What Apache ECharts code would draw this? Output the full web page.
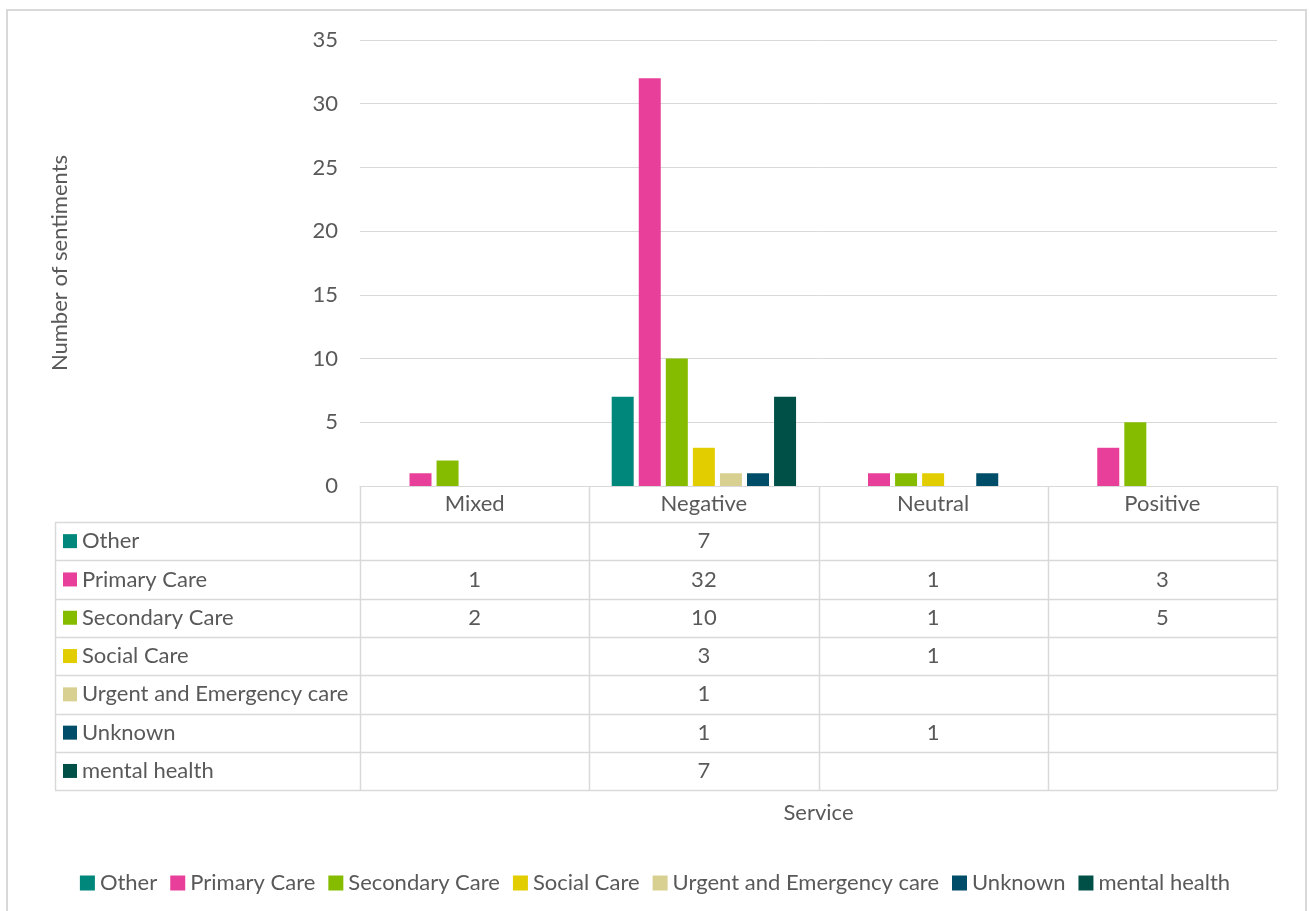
<!DOCTYPE html>
<html>
<head>
<meta charset="utf-8">
<style>
  html, body { margin: 0; padding: 0; background: #ffffff; }
  #chart { width: 1310px; height: 911px; }
</style>
<script src="https://cdn.jsdelivr.net/npm/echarts@6/dist/echarts.min.js"></script>
</head>
<body>
<div id="chart"></div>
<script>
// Sentiment counts per service, grouped by sentiment category
const categories = ['Mixed', 'Negative', 'Neutral', 'Positive'];
const seriesNames = ['Other', 'Primary Care', 'Secondary Care', 'Social Care',
                     'Urgent and Emergency care', 'Unknown', 'mental health'];
const otherValues     = [null, 7, null, null];
const primaryCare     = [1, 32, 1, 3];
const secondaryCare   = [2, 10, 1, 5];
const socialCare      = [null, 3, 1, null];
const urgentEmergency = [null, 1, null, null];
const unknownValues   = [null, 1, 1, null];
const mentalHealth    = [null, 7, null, null];
const seriesColors = ['#00877C', '#E8409A', '#86BC00', '#E2CD00', '#D8D090', '#004D6A', '#005048'];
const yMin = 0, yMax = 35, yStep = 5;

const seriesValues = [otherValues, primaryCare, secondaryCare, socialCare,
                      urgentEmergency, unknownValues, mentalHealth];

const FONT = 'Lato';
const FS = 22;
const TEXT = '#595959';
const LINE = '#D9D9D9';

const chart = echarts.init(document.getElementById('chart'), null, { renderer: 'canvas' });

chart.setOption({
  backgroundColor: '#ffffff',
  animation: false,
  textStyle: { fontFamily: FONT, color: TEXT },
  grid: { left: 360, right: 33, top: 40, bottom: 425, containLabel: false },
  legend: {
    bottom: 12,
    left: 'center',
    itemWidth: 15,
    itemHeight: 15,
    itemGap: 13,
    icon: 'rect',
    textStyle: { fontFamily: FONT, fontSize: FS, color: TEXT },
    data: seriesNames
  },
  xAxis: {
    type: 'category',
    data: categories,
    name: 'Service',
    nameLocation: 'middle',
    nameGap: 316,
    nameTextStyle: { fontFamily: FONT, fontSize: FS, color: TEXT },
    axisLine: { show: true, lineStyle: { color: LINE, width: 1 } },
    axisTick: { show: false },
    axisLabel: { margin: 7, fontFamily: FONT, fontSize: FS, color: TEXT },
    splitLine: { show: false }
  },
  yAxis: {
    type: 'value',
    min: yMin,
    max: yMax,
    interval: yStep,
    name: 'Number of sentiments',
    nameLocation: 'middle',
    nameGap: 289,
    nameRotate: 90,
    nameTextStyle: { fontFamily: FONT, fontSize: FS, color: TEXT },
    axisLine: { show: false },
    axisTick: { show: false },
    axisLabel: { margin: 22, fontFamily: FONT, fontSize: FS, color: TEXT },
    splitLine: { show: true, lineStyle: { color: LINE, width: 1 } }
  },
  series: seriesNames.map((name, i) => ({
    name: name,
    type: 'bar',
    data: seriesValues[i],
    barWidth: 22,
    barGap: '23%',
    itemStyle: { color: seriesColors[i] }
  }))
});

// Data table under the plot, aligned with the category axis
function drawTable() {
  const centers = categories.map((c) => chart.convertToPixel({ xAxisIndex: 0 }, c));
  const band = centers[1] - centers[0];
  const plotLeft = centers[0] - band / 2;
  const plotRight = centers[centers.length - 1] + band / 2;
  const baseY = chart.convertToPixel({ yAxisIndex: 0 }, 0);
  const tableLeft = 55;
  const headerH = 36;
  const rowH = 38.3;
  const rowsTop = baseY + headerH;
  const tableBottom = rowsTop + rowH * seriesNames.length;

  const els = [];
  const line = (x1, y1, x2, y2) => ({
    type: 'line', silent: true,
    shape: { x1, y1, x2, y2 },
    style: { stroke: LINE, lineWidth: 1.5 }
  });

  // horizontal rules
  for (let r = 0; r <= seriesNames.length; r++) {
    const y = Math.round(rowsTop + r * rowH) + 0.5;
    els.push(line(tableLeft, y, plotRight, y));
  }
  // vertical rules at category boundaries
  for (let k = 0; k <= categories.length; k++) {
    const x = Math.round(plotLeft + k * band) + 0.5;
    els.push(line(x, baseY, x, tableBottom));
  }
  els.push(line(tableLeft + 0.5, rowsTop, tableLeft + 0.5, tableBottom));

  seriesNames.forEach((name, i) => {
    const cy = rowsTop + rowH * (i + 0.5);
    els.push({
      type: 'rect', silent: true,
      shape: { x: 63, y: cy - 7, width: 14, height: 14 },
      style: { fill: seriesColors[i] }
    });
    els.push({
      type: 'text', silent: true,
      x: 82, y: cy,
      style: { text: name, fill: TEXT, font: FS + 'px ' + FONT, textAlign: 'left', textVerticalAlign: 'middle' }
    });
    seriesValues[i].forEach((v, j) => {
      if (v === null || v === undefined) return;
      els.push({
        type: 'text', silent: true,
        x: centers[j], y: cy,
        style: { text: String(v), fill: TEXT, font: FS + 'px ' + FONT, textAlign: 'center', textVerticalAlign: 'middle' }
      });
    });
  });

  // chart frame
  els.push({
    type: 'rect', silent: true,
    shape: { x: 7, y: 10, width: 1299, height: 1000 },
    style: { fill: 'none', stroke: LINE, lineWidth: 2 }
  });

  chart.setOption({ graphic: { elements: els } });
}

drawTable();
</script>
</body>
</html>
